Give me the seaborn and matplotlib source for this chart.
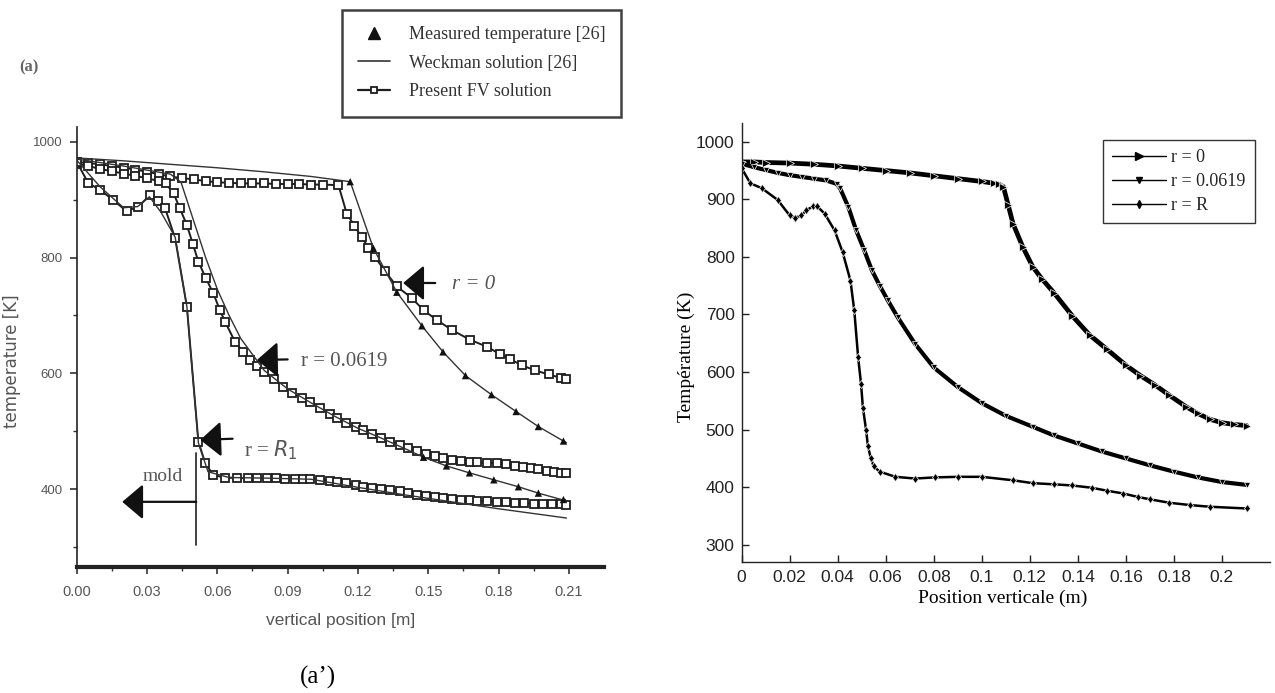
import numpy as np
import pandas as pd
import seaborn as sns
import matplotlib
matplotlib.use("Agg")
import matplotlib.pyplot as plt
from matplotlib.lines import Line2D

# ---------------- LEFT PANEL (a) : scanned reference figure ----------------
fv_r0_x = [0, .005, .01, .015, .02, .025, .03, .035, .04, .045, .05, .055, .06, .065, .07, .075,
           .08, .085, .09, .095, .10, .105, .1117, .1152, .1185, .1216, .1245, .1273, .1316, .1366,
           .143, .148, .1537, .16, .1678, .175, .1807, .185, .19, .1955, .2015, .2067, .209]
fv_r0_T = [965, 963, 961, 958, 955, 952, 948, 944, 940, 937, 935, 932, 930, 929, 928, 928,
           928, 927, 927, 927, 926, 926, 925, 876, 855, 835, 817, 801, 776, 750,
           730, 709, 692, 675, 658, 646, 633, 624, 614, 605, 598, 592, 590]

wk_r0_x = [0, .02, .04, .06, .08, .10, .1167, .1266, .1366, .1473, .1563, .1659, .177, .1875, .197, .2077, .209]
wk_r0_T = [972, 967, 961, 955, 948, 940, 931, 816, 740, 682, 637, 596, 563, 534, 508, 483, 480]

ms_r0_x = [.1167, .1266, .1366, .1473, .1563, .1659, .177, .1875, .197, .2077]
ms_r0_T = [931, 816, 740, 682, 637, 596, 563, 534, 508, 483]

fv_r1_x = [0, .005, .01, .015, .02, .025, .03, .035, .038, .0413, .044, .047, .0495, .0519, .055, .0583,
           .061, .0633, .0676, .071, .074, .077, .0797, .084, .0882, .092, .096, .0996, .104, .108,
           .111, .115, .119, .1223, .126, .13, .1337, .138, .1415, .1451, .149, .153, .1565, .16,
           .164, .1678, .171, .175, .1792, .183, .187, .1905, .1937, .197, .2005, .2035, .2067, .209]
fv_r1_T = [962, 958, 953, 949, 945, 941, 937, 932, 928, 911, 885, 856, 824, 793, 765, 738,
           710, 689, 654, 637, 623, 612, 603, 590, 577, 566, 558, 551, 540, 530,
           522, 515, 508, 502, 496, 489, 482, 477, 471, 465, 461, 457, 453, 450,
           448, 447, 446, 445, 445, 443, 440, 438, 436, 434, 432, 430, 428, 427]

wk_r1_x = [0, .02, .04, .0445, .05, .055, .06, .065, .07, .08, .09, .10, .11, .12, .13, .14, .148,
           .1578, .1676, .178, .1885, .197, .2077, .209]
wk_r1_T = [970, 958, 944, 930, 862, 800, 745, 700, 660, 605, 573, 549, 526, 505, 488, 470, 455,
           440, 428, 416, 404, 393, 381, 380]

ms_r1_x = [.148, .1578, .1676, .178, .1885, .197, .2077]
ms_r1_T = [455, 440, 428, 416, 404, 393, 382]

fv_rR_x = [0, .005, .01, .0156, .0213, .0263, .0313, .0345, .0377, .042, .047, .0519, .0548, .0583,
           .0633, .0683, .073, .077, .081, .085, .089, .093, .0965, .0996, .104, .108, .111, .115,
           .119, .1223, .126, .13, .1337, .138, .1415, .1451, .149, .153, .1565, .16, .164, .1678,
           .171, .175, .1792, .183, .187, .191, .195, .199, .203, .2067, .209]
fv_rR_T = [965, 928, 917, 899, 880, 888, 908, 898, 885, 833, 715, 482, 445, 424,
           420, 419, 419, 419, 419, 419, 418, 418, 418, 418, 416, 414, 413, 410,
           407, 404, 402, 400, 399, 396, 393, 390, 388, 386, 384, 383, 382, 381,
           380, 379, 378, 377, 376, 376, 375, 375, 374, 374, 373]

wk_rR_x = [0, .01, .02, .026, .031, .036, .042, .047, .0519, .056, .065, .08, .10, .12, .14, .16, .18, .20, .209]
wk_rR_T = [968, 922, 886, 888, 905, 878, 835, 715, 480, 430, 420, 419, 417, 403, 390, 378, 366, 355, 350]

left_xticks = [0.00, 0.03, 0.06, 0.09, 0.12, 0.15, 0.18, 0.21]
left_xtick_labels = ["0.00", "0.03", "0.06", "0.09", "0.12", "0.15", "0.18", "0.21"]
left_yticks = [400, 600, 800, 1000]
left_legend_labels = ["Measured temperature [26]", "Weckman solution [26]", "Present FV solution"]

# ---------------- RIGHT PANEL : present computation ----------------
r0_x = [0, .005, .01, .02, .03, .04, .05, .06, .07, .08, .09, .10, .105, .1073, .109, .111, .113,
        .117, .1212, .125, .13, .1376, .145, .152, .16, .166, .172, .178, .185, .19, .195, .20, .205, .2103]
r0_T = [965, 965, 964, 963, 961, 958, 954, 950, 946, 941, 936, 931, 928, 926, 922, 890, 858,
        818, 783, 762, 738, 698, 664, 640, 612, 594, 578, 560, 540, 528, 518, 512, 509, 507]

r1_x = [0, .005, .01, .015, .02, .025, .03, .035, .0395, .041, .0444, .0477, .051, .0542, .0575,
        .0608, .065, .0722, .08, .09, .10, .11, .1212, .13, .14, .15, .16, .17, .18, .19, .20, .2103]
r1_T = [962, 956, 951, 946, 942, 939, 936, 933, 927, 919, 887, 846, 812, 777, 750,
        725, 695, 649, 608, 574, 546, 524, 505, 490, 476, 462, 450, 438, 427, 417, 409, 404]

rR_x = [0, .0036, .0085, .015, .02, .0224, .0248, .027, .0297, .0314, .0346, .0387, .042, .0453,
        .0469, .0485, .0497, .0505, .0518, .0526, .0538, .055, .0575, .064, .0722, .0804, .09, .10,
        .113, .1212, .13, .1376, .1458, .152, .159, .165, .170, .178, .1866, .195, .2103]
rR_T = [954, 928, 919, 899, 872, 868, 872, 881, 888, 888, 875, 846, 809, 759,
        707, 626, 580, 538, 500, 471, 450, 436, 427, 418, 415, 417, 418, 418,
        412, 407, 405, 403, 399, 394, 389, 383, 379, 373, 369, 366, 363]

right_xticks = [0, 0.02, 0.04, 0.06, 0.08, 0.10, 0.12, 0.14, 0.16, 0.18, 0.20]
right_xtick_labels = ["0", "0.02", "0.04", "0.06", "0.08", "0.1", "0.12", "0.14", "0.16", "0.18", "0.2"]
right_yticks = [300, 400, 500, 600, 700, 800, 900, 1000]
right_legend_labels = ["r = 0", "r = 0.0619", "r = R"]

# ---------------- styling ----------------
sns.set_theme(style="white")
plt.rcParams["font.family"] = ["DejaVu Sans"]
SERIF = ["Liberation Serif", "DejaVu Serif"]
NARROW = ["Liberation Sans Narrow", "Liberation Sans", "DejaVu Sans"]

fig = plt.figure(figsize=(12.75, 6.93), dpi=100)
axL = fig.add_axes([0.0602, 0.1823, 0.4135, 0.6349])
axR = fig.add_axes([0.5817, 0.189, 0.4143, 0.633])

# ---- left panel curves ----
dark = "#1e1e1e"
sq = dict(marker="s", markersize=5.5, markerfacecolor="white", markeredgecolor=dark,
          markeredgewidth=1.3, color=dark, lw=1.4, estimator=None, sort=False)
for xs, ts in [(fv_r0_x, fv_r0_T), (fv_r1_x, fv_r1_T), (fv_rR_x, fv_rR_T)]:
    sns.lineplot(x=xs, y=ts, ax=axL, **sq)
for xs, ts in [(wk_r0_x, wk_r0_T), (wk_r1_x, wk_r1_T), (wk_rR_x, wk_rR_T)]:
    sns.lineplot(x=xs, y=ts, ax=axL, color="#333333", lw=1.0, estimator=None, sort=False)
for xs, ts in [(ms_r0_x, ms_r0_T), (ms_r1_x, ms_r1_T)]:
    sns.scatterplot(x=xs, y=ts, ax=axL, marker="^", s=28, color="#111111", edgecolor="none", zorder=5)

axL.set_xlim(0, 0.225)
axL.set_ylim(266, 1026)
axL.set_xticks(left_xticks)
axL.set_xticklabels(left_xtick_labels, family=NARROW, fontsize=10.5, color="#555555")
axL.set_xticks([0.015, 0.045, 0.075, 0.105, 0.135, 0.165, 0.195], minor=True)
axL.set_yticks(left_yticks)
axL.set_yticklabels([str(v) for v in left_yticks], family=NARROW, fontsize=9.5, color="#555555")
axL.set_yticks([300, 500, 700, 900], minor=True)
axL.tick_params(axis="both", which="major", direction="out", length=5, width=1.2, color="#333333",
                bottom=True, left=True)
axL.tick_params(axis="both", which="minor", direction="out", length=3, width=1.0, color="#333333",
                bottom=True, left=True)
axL.tick_params(axis="x", pad=8)
axL.tick_params(axis="y", pad=5)
for s in ["top", "right"]:
    axL.spines[s].set_visible(False)
axL.spines["bottom"].set_linewidth(3.0)
axL.spines["bottom"].set_color("#222222")
axL.spines["left"].set_linewidth(1.2)
axL.spines["left"].set_color("#222222")
axL.set_xlabel("vertical position [m]", family=NARROW, fontsize=12.5, color="#555555")
axL.xaxis.set_label_coords(0.501, -0.105)
axL.set_ylabel("temperature [K]", family="DejaVu Sans", fontsize=12, color="#555555")
axL.yaxis.set_label_coords(-0.105, 0.4675)

# annotations (arrows and labels)
arrow = dict(arrowstyle="-|>,head_length=0.65,head_width=0.55", color="#111111", lw=1.6,
             mutation_scale=20, shrinkA=0, shrinkB=0)
axL.annotate("", xy=(0.1393, 756), xytext=(0.1530, 756), arrowprops=arrow)
axL.text(0.1600, 753, "r = 0", family=SERIF, style="italic", fontsize=15, color="#555555", va="center")
axL.annotate("", xy=(0.0769, 623), xytext=(0.0900, 624), arrowprops=arrow)
axL.text(0.0955, 620, "r = 0.0619", family=SERIF, fontsize=15, color="#555555", va="center")
axL.annotate("", xy=(0.0527, 485), xytext=(0.0665, 487), arrowprops=arrow)
axL.text(0.0715, 468, r"r = $R_1$", family=SERIF, fontsize=15, color="#555555", va="center")
axL.plot([0.051, 0.051], [303, 462], color="#333333", lw=1.3)
axL.annotate("", xy=(0.0194, 378), xytext=(0.051, 378), arrowprops=arrow)
axL.text(0.0365, 421, "mold", family=SERIF, fontsize=14, color="#555555", ha="center", va="center")

left_handles = [
    Line2D([], [], ls="none", marker="^", markersize=8, color="#111111"),
    Line2D([], [], color="#333333", lw=1.2),
    Line2D([], [], color=dark, lw=1.6, marker="s", markersize=5, markerfacecolor="white",
           markeredgecolor=dark, markeredgewidth=1.3),
]
legL = fig.legend(left_handles, left_legend_labels, loc="upper left", bbox_to_anchor=(0.268, 0.986),
                  bbox_transform=fig.transFigure, prop={"family": SERIF, "size": 13},
                  frameon=True, fancybox=False, handlelength=1.8, labelspacing=0.65,
                  borderpad=0.9, handletextpad=1.0, borderaxespad=0)
legL.get_frame().set_edgecolor("#111111")
legL.get_frame().set_linewidth(1.8)
for t in legL.get_texts():
    t.set_color("#333333")

fig.text(29 / 1275, 1 - 67 / 693, "(a)", family=SERIF, fontsize=12, fontweight="bold",
         color="#666666", ha="center", va="center")
fig.text(318 / 1275, 1 - 677 / 693, "(a\u2019)", family=SERIF, fontsize=18, color="black",
         ha="center", va="center")

# ---- right panel curves ----
sns.lineplot(x=r0_x, y=r0_T, ax=axR, color="black", lw=3.4, marker=">", markersize=5.5,
             markeredgewidth=0.5, estimator=None, sort=False)
sns.lineplot(x=r1_x, y=r1_T, ax=axR, color="black", lw=3.0, marker="v", markersize=5,
             markeredgewidth=0.5, estimator=None, sort=False)
sns.lineplot(x=rR_x, y=rR_T, ax=axR, color="black", lw=1.8, marker="d", markersize=4.5,
             markeredgewidth=0.5, estimator=None, sort=False)

axR.set_xlim(0, 0.22)
axR.set_ylim(270, 1032)
axR.set_xticks(right_xticks)
axR.set_xticklabels(right_xtick_labels, family=NARROW, fontsize=12.5, color="#222222")
axR.set_yticks(right_yticks)
axR.set_yticklabels([str(v) for v in right_yticks], family=NARROW, fontsize=12.5, color="#222222")
axR.tick_params(axis="both", which="major", direction="in", length=5, width=1.0, color="#222222",
                bottom=True, left=True)
axR.tick_params(axis="x", pad=6)
axR.tick_params(axis="y", pad=5)
for s in ["top", "right"]:
    axR.spines[s].set_visible(False)
for s in ["bottom", "left"]:
    axR.spines[s].set_linewidth(1.0)
    axR.spines[s].set_color("#222222")
axR.set_xlabel("Position verticale (m)", family=SERIF, fontsize=14, color="black", va="center")
axR.xaxis.set_label_coords(0.495, -0.082)
axR.set_ylabel("Température (K)", family=SERIF, fontsize=14, color="black", va="center")
axR.yaxis.set_label_coords(-0.104, 0.467)

right_handles = [
    Line2D([], [], color="black", lw=1.0, marker=">", markersize=6),
    Line2D([], [], color="black", lw=1.0, marker="v", markersize=5),
    Line2D([], [], color="black", lw=1.0, marker="d", markersize=4),
]
legR = fig.legend(right_handles, right_legend_labels, loc="upper right", bbox_to_anchor=(0.984, 0.798),
                  bbox_transform=fig.transFigure, prop={"family": SERIF, "size": 13},
                  frameon=True, fancybox=False, handlelength=3.0, labelspacing=0.4,
                  borderpad=0.5, handletextpad=0.3, borderaxespad=0, markerfirst=True)
legR.get_frame().set_edgecolor("black")
legR.get_frame().set_linewidth(1.0)

fig.savefig("out.png", dpi=100, facecolor="white")
